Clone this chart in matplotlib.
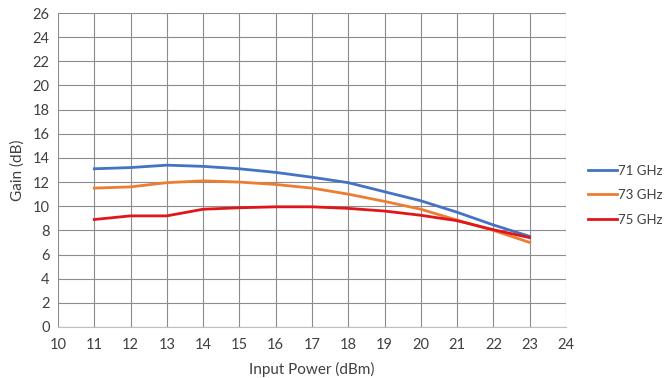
import matplotlib
matplotlib.use('Agg')
import matplotlib.pyplot as plt

# ===== data =====
input_power = [11, 12, 13, 14, 15, 16, 17, 18, 19, 20, 21, 22, 23]
gain_71 = [13.1, 13.2, 13.4, 13.3, 13.1, 12.8, 12.4, 11.95, 11.2, 10.45, 9.5, 8.45, 7.5]
gain_73 = [11.5, 11.6, 11.95, 12.1, 12.0, 11.8, 11.5, 11.0, 10.4, 9.75, 8.85, 8.0, 7.0]
gain_75 = [8.9, 9.2, 9.2, 9.75, 9.87, 9.95, 9.95, 9.82, 9.6, 9.25, 8.8, 8.05, 7.4]
series_labels = ['71 GHz', '73 GHz', '75 GHz']
colors = ['#4472C4', '#ED7D31', '#E0161B']

plt.rcParams['font.family'] = ['Lato', 'DejaVu Sans']

fig = plt.figure(figsize=(6.71, 3.78), dpi=100)
ax = fig.add_axes([0.0864, 0.135, 0.757, 0.8306])

for ys, lab, c in zip([gain_71, gain_73, gain_75], series_labels, colors):
    ax.plot(input_power, ys, color=c, linewidth=2, label=lab)

ax.set_xlim(10, 24)
ax.set_ylim(0, 26)
ax.set_xticks(range(10, 25))
ax.set_yticks(range(0, 27, 2))
ax.grid(True, color='#8C8C8C', linewidth=0.8)
ax.set_axisbelow(True)
for s in ax.spines.values():
    s.set_visible(False)
ax.spines['bottom'].set_visible(True)
ax.spines['bottom'].set_color('#BFBFBF')
ax.tick_params(length=0, labelsize=10.5, colors='#404040', pad=8)
ax.tick_params(axis='y', pad=6)

ax.set_xlabel('Input Power (dBm)', fontsize=11, color='#404040', labelpad=7)
ax.set_ylabel('Gain (dB)', fontsize=11, color='#404040', labelpad=6)

ax.legend(loc='center left', bbox_to_anchor=(1.02, 0.42), frameon=False,
          fontsize=9.5, handlelength=2.2, handletextpad=0.1, labelspacing=0.95,
          labelcolor='#404040')

plt.savefig('out.png', dpi=100)
plt.close()
